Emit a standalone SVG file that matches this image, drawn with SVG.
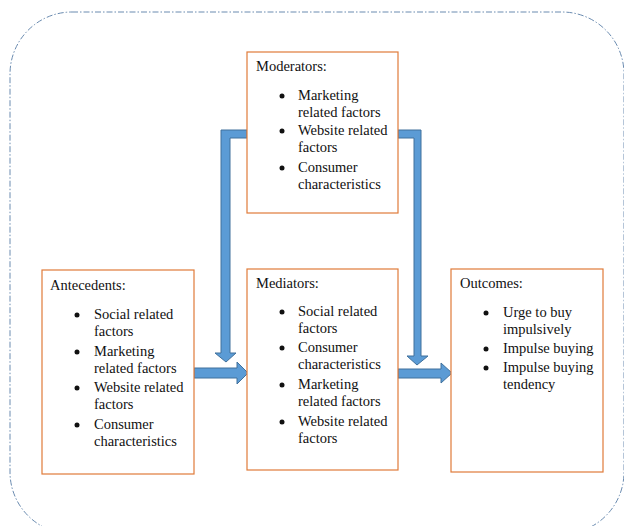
<svg xmlns="http://www.w3.org/2000/svg" width="624" height="526" viewBox="0 0 624 526">
<style>
.box{fill:#fff;stroke:#e07b39;stroke-width:1.2}
.t{font-family:'Liberation Serif','Times New Roman',serif;font-size:14.5px;fill:#111}
.b{fill:#111}
.arr{fill:#5b9bd5;stroke:#41719c;stroke-width:1}
.frame{fill:none;stroke:#6a8bb0;stroke-width:1;stroke-dasharray:6 2 1.5 2}
</style>
<rect class="frame" x="10" y="12" width="614" height="522" rx="62" ry="62"/>
<g id="connectors">
<path class="arr" d="M247,130 L221,130 L221,353 L215,353 L226,362 L236,353 L230,353 L230,138 L247,138 Z"/>
<path class="arr" d="M398,130 L421,130 L421,356 L428,356 L417,365 L407,356 L414,356 L414,138 L398,138 Z"/>
<path class="arr" d="M194,368 L237,368 L237,362 L248,373 L237,384 L237,378 L194,378 Z"/>
<path class="arr" d="M398,369 L441,369 L441,363 L452,373 L441,383 L441,378 L398,378 Z"/>
</g>
<g font-family="Liberation Serif, serif">
<g id="moderators">
<rect class="box" x="247" y="52" width="151" height="161"/>
<text class="t" x="256" y="71">Moderators:</text>
<circle class="b" cx="282" cy="96" r="2.5"/><text class="t" x="298" y="100">Marketing</text><text class="t" x="298" y="117">related factors</text>
<circle class="b" cx="282" cy="131" r="2.5"/><text class="t" x="298" y="135">Website related</text><text class="t" x="298" y="152">factors</text>
<circle class="b" cx="282" cy="168" r="2.5"/><text class="t" x="298" y="172">Consumer</text><text class="t" x="298" y="189">characteristics</text>
</g>
<g id="mediators">
<rect class="box" x="247" y="269" width="151" height="201"/>
<text class="t" x="256" y="288">Mediators:</text>
<circle class="b" cx="282" cy="312" r="2.5"/><text class="t" x="298" y="316">Social related</text><text class="t" x="298" y="333">factors</text>
<circle class="b" cx="282" cy="348" r="2.5"/><text class="t" x="298" y="352">Consumer</text><text class="t" x="298" y="369">characteristics</text>
<circle class="b" cx="282" cy="385" r="2.5"/><text class="t" x="298" y="389">Marketing</text><text class="t" x="298" y="406">related factors</text>
<circle class="b" cx="282" cy="422" r="2.5"/><text class="t" x="298" y="426">Website related</text><text class="t" x="298" y="443">factors</text>
</g>
<g id="antecedents">
<rect class="box" x="42" y="270" width="152" height="204"/>
<text class="t" x="50" y="290">Antecedents:</text>
<circle class="b" cx="77" cy="315" r="2.5"/><text class="t" x="94" y="319">Social related</text><text class="t" x="94" y="336">factors</text>
<circle class="b" cx="77" cy="352" r="2.5"/><text class="t" x="94" y="356">Marketing</text><text class="t" x="94" y="373">related factors</text>
<circle class="b" cx="77" cy="388" r="2.5"/><text class="t" x="94" y="392">Website related</text><text class="t" x="94" y="409">factors</text>
<circle class="b" cx="77" cy="425" r="2.5"/><text class="t" x="94" y="429">Consumer</text><text class="t" x="94" y="446">characteristics</text>
</g>
<g id="outcomes">
<rect class="box" x="451" y="269" width="152" height="203"/>
<text class="t" x="460" y="288">Outcomes:</text>
<circle class="b" cx="486" cy="313" r="2.5"/><text class="t" x="503" y="317">Urge to buy</text><text class="t" x="503" y="334">impulsively</text>
<circle class="b" cx="486" cy="349" r="2.5"/><text class="t" x="503" y="353">Impulse buying</text>
<circle class="b" cx="486" cy="368" r="2.5"/><text class="t" x="503" y="372">Impulse buying</text><text class="t" x="503" y="389">tendency</text>
</g>
</g>
</svg>
